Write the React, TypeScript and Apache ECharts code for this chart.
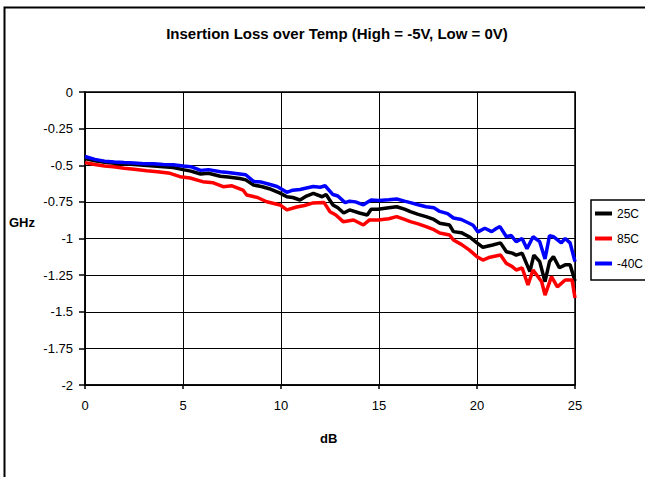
import React, { useEffect, useRef } from "react";
import * as echarts from "echarts";

const TITLE = "Insertion Loss over Temp (High = -5V, Low = 0V)";
const X_NAME = "dB";
const Y_NAME = "GHz";
const SERIES_NAMES = ["25C", "85C", "-40C"];
const SERIES_COLORS = ["#000000", "#ff0000", "#0000ff"];

const x25 = [0, 0.5, 1, 1.5, 2, 2.5, 3, 3.5, 4, 4.5, 5, 5.4, 5.9, 6.3, 6.9, 7.3, 7.9, 8.2, 8.6, 9.0, 9.4, 9.95, 10.3, 10.6, 10.97, 11.3, 11.65, 12.1, 12.3, 12.65, 12.9, 13.2, 13.5, 14.0, 14.4, 14.6, 14.95, 15.5, 15.9, 16.3, 16.6, 17.0, 17.4, 17.8, 18.1, 18.6, 18.8, 19.2, 19.6, 20.0, 20.3, 20.8, 21.2, 21.5, 21.8, 22.0, 22.3, 22.7, 22.9, 23.2, 23.47, 23.7, 23.9, 24.2, 24.5, 24.75, 25];
const y25 = [-0.455, -0.47, -0.48, -0.486, -0.49, -0.495, -0.5, -0.505, -0.51, -0.515, -0.53, -0.54, -0.56, -0.555, -0.575, -0.58, -0.59, -0.6, -0.635, -0.645, -0.66, -0.69, -0.715, -0.72, -0.737, -0.71, -0.692, -0.715, -0.7, -0.771, -0.79, -0.826, -0.805, -0.826, -0.84, -0.8, -0.8, -0.79, -0.783, -0.8, -0.817, -0.835, -0.851, -0.87, -0.896, -0.908, -0.953, -0.96, -0.988, -1.03, -1.06, -1.044, -1.03, -1.09, -1.1, -1.113, -1.1, -1.226, -1.113, -1.158, -1.295, -1.158, -1.124, -1.2, -1.18, -1.18, -1.29];

const x85 = [0, 0.5, 1, 1.45, 2, 2.5, 3.15, 3.7, 4.34, 4.85, 5.36, 6.0, 6.55, 7.05, 7.5, 8.06, 8.25, 8.8, 9.27, 9.95, 10.3, 10.8, 11.2, 11.6, 12.2, 12.5, 12.8, 13.17, 13.7, 14.2, 14.5, 14.95, 15.5, 15.9, 16.3, 16.6, 17.0, 17.4, 17.8, 18.1, 18.6, 18.8, 19.2, 19.6, 20.0, 20.3, 20.6, 21.2, 21.5, 21.8, 22.0, 22.3, 22.6, 22.86, 23.3, 23.47, 23.8, 24.1, 24.5, 24.85, 25];
const y85 = [-0.482, -0.495, -0.505, -0.51, -0.52, -0.527, -0.537, -0.545, -0.555, -0.578, -0.587, -0.612, -0.62, -0.646, -0.64, -0.669, -0.703, -0.72, -0.749, -0.771, -0.805, -0.785, -0.775, -0.758, -0.755, -0.817, -0.84, -0.885, -0.874, -0.908, -0.874, -0.874, -0.865, -0.851, -0.87, -0.885, -0.9, -0.919, -0.94, -0.963, -0.976, -1.01, -1.04, -1.078, -1.124, -1.147, -1.13, -1.113, -1.17, -1.192, -1.215, -1.2, -1.317, -1.215, -1.295, -1.386, -1.26, -1.33, -1.283, -1.283, -1.406];

const xm40 = [0, 0.5, 1, 1.5, 2, 2.5, 3, 3.5, 4, 4.5, 5, 5.4, 5.9, 6.3, 6.9, 7.3, 7.9, 8.2, 8.6, 9.0, 9.4, 9.8, 10.3, 10.6, 10.97, 11.3, 11.65, 12.0, 12.25, 12.65, 12.9, 13.27, 13.5, 13.8, 14.0, 14.2, 14.6, 15.0, 15.5, 15.9, 16.3, 16.6, 17.0, 17.4, 17.8, 18.1, 18.5, 18.8, 19.2, 19.6, 19.8, 20.05, 20.4, 20.75, 21.0, 21.17, 21.5, 21.75, 22.0, 22.3, 22.55, 22.86, 23.2, 23.47, 23.7, 23.9, 24.3, 24.5, 24.75, 25];
const ym40 = [-0.44, -0.46, -0.472, -0.478, -0.482, -0.485, -0.49, -0.49, -0.495, -0.497, -0.505, -0.51, -0.535, -0.53, -0.545, -0.55, -0.56, -0.565, -0.61, -0.615, -0.63, -0.645, -0.685, -0.67, -0.665, -0.655, -0.645, -0.65, -0.64, -0.7, -0.71, -0.755, -0.745, -0.75, -0.76, -0.77, -0.737, -0.74, -0.735, -0.73, -0.745, -0.755, -0.77, -0.783, -0.79, -0.815, -0.83, -0.86, -0.87, -0.896, -0.91, -0.955, -0.93, -0.953, -0.93, -0.919, -0.988, -0.98, -1.022, -1.0, -1.07, -0.988, -1.022, -1.14, -0.98, -0.988, -1.03, -1.0, -1.03, -1.158];

const X_TICKS = { min: 0, max: 25, interval: 5 };
const Y_TICKS = { min: -2, max: 0, interval: 0.25 };

const FONT = "'Liberation Sans', Arial, sans-serif";

function pairs(xs: number[], ys: number[]) {
  return xs.map((x, i) => [x, ys[i]]);
}

export default function App() {
  const ref = useRef<HTMLDivElement>(null);
  useEffect(() => {
    if (!ref.current) return;
    const chart = echarts.init(ref.current, undefined, { renderer: "svg" });
    const datasets = [pairs(x25, y25), pairs(x85, y85), pairs(xm40, ym40)];
    chart.setOption({
      animation: false,
      backgroundColor: "#ffffff",
      textStyle: { fontFamily: FONT },
      title: {
        text: TITLE,
        left: 337,
        top: 26,
        padding: 0,
        textAlign: "center",
        textStyle: { fontSize: 15, fontWeight: "bold", color: "#000", fontFamily: FONT },
      },
      grid: {
        left: 85,
        right: 70,
        top: 92,
        bottom: 92,
        show: true,
        borderColor: "#000",
        borderWidth: 1.5,
        backgroundColor: "#fff",
      },
      legend: {
        orient: "vertical",
        left: 591,
        top: 200,
        data: SERIES_NAMES,
        icon: "rect",
        itemWidth: 17,
        itemHeight: 4,
        itemGap: 10,
        padding: [6, 14, 9, 4],
        borderColor: "#000",
        borderWidth: 1.5,
        backgroundColor: "#fff",
        textStyle: { fontSize: 12, color: "#000", fontFamily: FONT, lineHeight: 15 },
      },
      xAxis: {
        type: "value",
        min: X_TICKS.min,
        max: X_TICKS.max,
        interval: X_TICKS.interval,
        axisLine: { show: true, onZero: false, lineStyle: { color: "#000", width: 1.5 } },
        axisTick: { show: true, length: 4, lineStyle: { color: "#000", width: 1.5 } },
        splitLine: { show: true, lineStyle: { color: "#000", width: 1 } },
        axisLabel: { color: "#000", fontSize: 13, margin: 14, fontFamily: FONT },
      },
      yAxis: {
        type: "value",
        min: Y_TICKS.min,
        max: Y_TICKS.max,
        interval: Y_TICKS.interval,
        axisLine: { show: true, onZero: false, lineStyle: { color: "#000", width: 1.5 } },
        axisTick: { show: true, length: 6, lineStyle: { color: "#000", width: 1.5 } },
        splitLine: { show: true, lineStyle: { color: "#000", width: 1 } },
        axisLabel: { color: "#000", fontSize: 13, margin: 12, fontFamily: FONT },
      },
      graphic: [
        {
          type: "rect",
          z: -10,
          silent: true,
          shape: { x: 4.5, y: 7.5, width: 1000, height: 1000 },
          style: { fill: "none", stroke: "#000", lineWidth: 2 },
        },
        {
          type: "text",
          left: 9,
          top: 216,
          style: { text: Y_NAME, fontSize: 13, fontWeight: "bold", fill: "#000", fontFamily: FONT },
        },
        {
          type: "text",
          left: 320,
          top: 432,
          style: { text: X_NAME, fontSize: 13, fontWeight: "bold", fill: "#000", fontFamily: FONT },
        },
      ],
      series: SERIES_NAMES.map((name, i) => ({
        name,
        type: "line",
        data: datasets[i],
        showSymbol: false,
        symbol: "none",
        color: SERIES_COLORS[i],
        lineStyle: { color: SERIES_COLORS[i], width: 3.5 },
        itemStyle: { color: SERIES_COLORS[i] },
      })),
    });
    return () => chart.dispose();
  }, []);
  return (
    <div
      ref={ref}
      style={{ position: "absolute", left: 0, top: 0, width: 645, height: 477 }}
    />
  );
}
